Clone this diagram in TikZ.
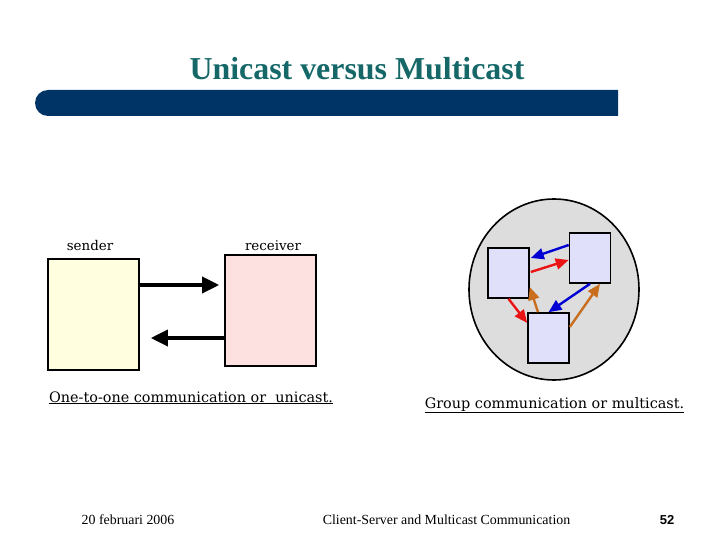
\documentclass[tikz,border=0pt]{standalone}
\usepackage{fontspec}
\setmainfont{Liberation Serif}
\newfontfamily\capfont{DejaVu Serif}
\newfontfamily\numfont{Liberation Sans}
\usetikzlibrary{arrows.meta,positioning}
\definecolor{titleteal}{RGB}{22,104,104}
\definecolor{barblue}{RGB}{0,51,102}
\definecolor{sendfill}{RGB}{255,255,224}
\definecolor{recvfill}{RGB}{253,224,224}
\definecolor{grpfill}{RGB}{221,221,221}
\definecolor{memberfill}{RGB}{224,224,250}
\definecolor{arrblue}{RGB}{0,0,210}
\definecolor{arrred}{RGB}{235,20,20}
\definecolor{arrorange}{RGB}{200,110,30}
\begin{document}
\begin{tikzpicture}[x=1pt,y=-1pt,
  hostbox/.style={draw,line width=1.6pt,minimum width=91pt,minimum height=111pt,inner sep=0pt},
  member/.style={draw,line width=1.6pt,fill=memberfill,minimum width=41pt,minimum height=50pt,inner sep=0pt},
  bigflow/.style={line width=3.5pt,-{Triangle[length=17pt,width=16pt]}},
  flow/.style={line width=2.4pt,-{Triangle[length=13pt,width=11pt]}},
  lbl/.style={font=\capfont\fontsize{13.4}{15}\selectfont},
  caption/.style={font=\capfont\fontsize{14.4}{16}\selectfont,anchor=base},
  foot/.style={font=\fontsize{13.9}{15}\selectfont}]
\useasboundingbox (0,0) rectangle (720,540);
% Title and bar
\node[font=\bfseries\fontsize{31.9}{36}\selectfont,text=titleteal] (title) at (357,69) {Unicast versus Multicast};
\fill[barblue] (618,90) -- (48,90) arc[start angle=90,end angle=270,radius=13pt] -- (618,116) -- cycle;
% Unicast: one sender, one receiver
\node[hostbox,fill=sendfill] (sender) at (93.5,314.5) {};
\node[hostbox,fill=recvfill] (receiver) at (270.5,310.5) {};
\node[lbl] (senderlabel) at (90,246) {sender};
\node[lbl] (receiverlabel) at (273,246) {receiver};
\draw[bigflow] ([yshift=29.5pt]sender.east) -- ([xshift=-5pt,yshift=25.5pt]receiver.west);
\draw[bigflow] ([yshift=-27.5pt]receiver.west) -- ([xshift=11pt,yshift=-23.5pt]sender.east);
\node[caption] (unicast) at (191,402) {\underline{One-to-one communication or~~unicast.}};
% Multicast: group of three members
\draw[fill=grpfill,line width=1.6pt] (554,289.5) ellipse [x radius=85pt,y radius=90.5pt];
\node[member] (m1) at (508.5,273) {};
\node[member] (m2) at (590,258) {};
\node[member] (m3) at (548.5,338) {};
\draw[flow,arrblue] ([yshift=13pt]m2.west) -- ([xshift=1pt,yshift=15pt]m1.east);
\draw[flow,arrred] ([xshift=1pt,yshift=1pt]m1.east) -- ([yshift=-2pt]m2.west);
\draw[flow,arrblue] (m2.south) -- (m3.north);
\draw[flow,arrorange] ([yshift=11pt]m3.east) -- ([xshift=10pt]m2.south);
\draw[flow,arrred] (m1.south) -- ([yshift=15pt]m3.west);
\draw[flow,arrorange] ([xshift=-10.5pt]m3.north) -- ([yshift=-14pt]m1.east);
\node[caption] (multicast) at (554.5,408) {\underline{Group communication or multicast.}};
% Footer
\node[foot] (date) at (128,520) {20 februari 2006};
\node[foot] (course) at (446.5,520) {Client-Server and Multicast Communication};
\node[font=\numfont\bfseries\fontsize{13}{15}\selectfont] (page) at (667,520) {52};
\end{tikzpicture}
\end{document}
